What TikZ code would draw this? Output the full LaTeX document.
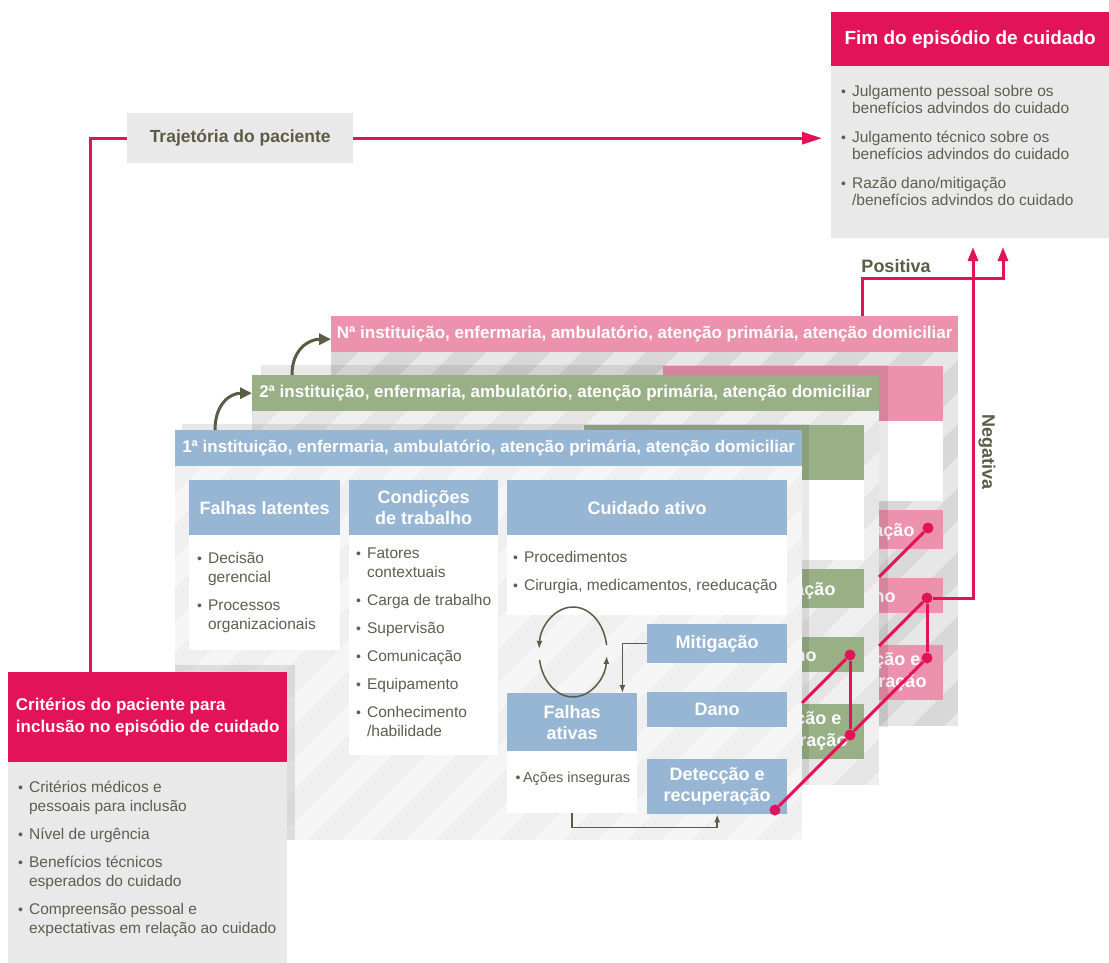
\documentclass[tikz,border=0pt]{standalone}
\usepackage{fontspec}
\setmainfont{Liberation Sans}
\usetikzlibrary{arrows.meta}

\definecolor{redc}{RGB}{226,19,88}
\definecolor{pinkc}{RGB}{236,145,174}
\definecolor{greenc}{RGB}{153,175,134}
\definecolor{bluec}{RGB}{151,182,212}
\definecolor{greyb}{RGB}{233,233,233}
\definecolor{olive}{RGB}{91,91,70}
\definecolor{txtc}{RGB}{94,94,80}
\definecolor{bodyN}{RGB}{216,216,216}
\definecolor{bodyII}{RGB}{229,229,229}
\definecolor{bodyI}{RGB}{239,239,239}
\newcommand\itemdot{{\fontsize{14}{14}\selectfont •}}

\begin{document}
\begin{tikzpicture}[x=1pt, y=-1pt,
    ibox/.style={anchor=north west, inner sep=0pt, align=center, text=white, font=\fontsize{18}{21}\selectfont\bfseries},
    frag/.style={anchor=base east, inner sep=0pt, text=white, font=\fontsize{18}{21}\selectfont\bfseries},
    wbox/.style={anchor=north west, inner sep=0pt, fill=white},
    gbox/.style={anchor=north west, inner sep=0pt, fill=greyb},
    cardhd/.style={anchor=north west, inner sep=0pt, minimum width=627, minimum height=36, text=white, font=\fontsize{17}{20}\selectfont\bfseries},
    lst/.style={anchor=north west, inner sep=0pt, text=txtc, font=\fontsize{15.5}{19}\selectfont},
    lbl/.style={text=olive, font=\fontsize{18}{21}\selectfont\bfseries},
    stripeln/.style={white, opacity=.4, line width=22},
    shadowfill/.style={black, opacity=.09},
    redln/.style={draw=redc, line width=3},
    redar/.style={redln, -{Triangle[length=20pt,width=12pt]}},
    redup/.style={redln, -{Triangle[length=14pt,width=10pt]}},
    rdot/.style={circle, fill=redc, inner sep=0pt, minimum size=11},
    stepar/.style={draw=olive, line width=3, -{Triangle[length=12pt,width=11pt]}},
    smallar/.style={draw=olive, line width=1.5, -{Latex[length=8pt,width=6pt]}}]
    \useasboundingbox (0,0) rectangle (1109,963);

    \foreach \dx/\dy/\col/\bg/\n/\ord in {156/-114/pinkc/bodyN/N/Nª, 77/-55/greenc/bodyII/2/2ª}{
        \begin{scope}[shift={(\dx,\dy)}]
            \begin{scope}
                \clip (175,466) rectangle (802,840);
                \fill[\bg] (175,466) rectangle (802,840);
                \foreach \s in {-240,-176,...,820}
                    \draw[stripeln] (\s,860) -- ++(420,-420);
            \end{scope}
            \node[cardhd, fill=\col] (hdr\n) at (175,430) {\ord\ instituição, enfermaria, ambulatório, atenção primária, atenção domiciliar};
            \node[ibox, fill=\col, minimum width=280, minimum height=55] (ca\n) at (507,480) {};
            \node[wbox, minimum width=280, minimum height=80] (caw\n) at (507,535) {};
            \node[ibox, fill=\col, minimum width=140, minimum height=39] (mit\n) at (647,624) {};
            \node[ibox, fill=\col, minimum width=140, minimum height=35] (dano\n) at (647,692) {};
            \node[ibox, fill=\col, minimum width=140, minimum height=55] (det\n) at (647,759) {};
            \node[frag] (mitf\n) at ([xshift=41.5pt, yshift=-6.5pt]mit\n.center) {ação};
            \node[frag] (danof\n) at ([xshift=22.5pt, yshift=-6.5pt]dano\n.center) {no};
            \node[frag] (detfa\n) at ([xshift=47.5pt, yshift=7pt]det\n.center) {ção e};
            \node[frag] (detfb\n) at ([xshift=53.5pt, yshift=-15pt]det\n.center) {ração};
        \end{scope}
    }

    \begin{scope}
        \clip (175,466) rectangle (802,840);
        \fill[bodyI] (175,466) rectangle (802,840);
        \foreach \s in {-240,-176,...,820}
            \draw[stripeln] (\s,860) -- ++(420,-420);
    \end{scope}
    \node[cardhd, fill=bluec] (hdr1) at (175,430) {1ª instituição, enfermaria, ambulatório, atenção primária, atenção domiciliar};
    \node[ibox, fill=bluec, minimum width=151, minimum height=55] (fl) at (189,480) {Falhas latentes};
    \node[wbox, minimum width=151, minimum height=115] (flw) at (189,535) {};
    \node[ibox, fill=bluec, minimum width=149, minimum height=55] (ct) at (349,480) {Condições\\de trabalho};
    \node[wbox, minimum width=149, minimum height=220] (ctw) at (349,535) {};
    \node[ibox, fill=bluec, minimum width=280, minimum height=55] (ca) at (507,480) {Cuidado ativo};
    \node[wbox, minimum width=280, minimum height=80] (caw) at (507,535) {};
    \node[ibox, fill=bluec, minimum width=140, minimum height=39] (mit) at (647,624) {Mitigação};
    \node[ibox, fill=bluec, minimum width=130, minimum height=58] (fa) at (507,693) {Falhas\\ativas};
    \node[wbox, minimum width=130, minimum height=62] (faw) at (507,751) {};
    \node[ibox, fill=bluec, minimum width=140, minimum height=35] (dano) at (647,692) {Dano};
    \node[ibox, fill=bluec, minimum width=140, minimum height=55] (det) at (647,759) {Detecção e\\recuperação};

    \fill[shadowfill] (261,365) rectangle (888,375);
    \fill[shadowfill] (879,375) rectangle (888,727);
    \fill[shadowfill] (182,424) rectangle (809,430);
    \fill[shadowfill] (802,430) rectangle (809,785);
    \fill[shadowfill] (175,665) rectangle (295,840);

    \node[lst] (fllst) at (197,550) {\begin{tabular}{@{}l@{\hspace{6pt}}l@{}}
        \itemdot & Decisão\\ & gerencial\\[9pt]
        \itemdot & Processos\\ & organizacionais
    \end{tabular}};
    \node[lst] (ctlst) at (356,545) {\begin{tabular}{@{}l@{\hspace{6pt}}l@{}}
        \itemdot & Fatores\\ & contextuais\\[9pt]
        \itemdot & Carga de trabalho\\[9pt]
        \itemdot & Supervisão\\[9pt]
        \itemdot & Comunicação\\[9pt]
        \itemdot & Equipamento\\[9pt]
        \itemdot & Conhecimento\\ & /habilidade
    \end{tabular}};
    \node[lst] (calst) at (513,549) {\begin{tabular}{@{}l@{\hspace{6pt}}l@{}}
        \itemdot & Procedimentos\\[9pt]
        \itemdot & Cirurgia, medicamentos, reeducação
    \end{tabular}};
    \node[lst, anchor=center, font=\fontsize{14.5}{17}\selectfont] (fatxt) at (573,779) {\itemdot\,Ações inseguras};

    \coordinate (cyc) at (573,652);
    \draw[smallar] (cyc) ++(-9:34 and 45) arc[start angle=-9, end angle=-176, x radius=34, y radius=45];
    \draw[smallar] (cyc) ++(170:34 and 45) arc[start angle=170, end angle=5, x radius=34, y radius=45];
    \draw[smallar] (mit.west) -| ([xshift=-15pt]fa.north east);
    \draw[smallar] (faw.south) -- ++(0,14) -| (det.south);

    \node[ibox, fill=redc, minimum width=279, minimum height=90, align=left, font=\fontsize{17}{22}\selectfont\bfseries] (crit) at (8,672) {Critérios do paciente para\\inclusão no episódio de cuidado};
    \node[gbox, minimum width=279, minimum height=201] (critb) at (8,762) {};
    \node[lst] (critlst) at (18,779) {\begin{tabular}{@{}l@{\hspace{6pt}}l@{}}
        \itemdot & Critérios médicos e\\ & pessoais para inclusão\\[9pt]
        \itemdot & Nível de urgência\\[9pt]
        \itemdot & Benefícios técnicos\\ & esperados do cuidado\\[9pt]
        \itemdot & Compreensão pessoal e\\ & expectativas em relação ao cuidado
    \end{tabular}};

    \node[ibox, fill=redc, minimum width=278, minimum height=54, font=\fontsize{19}{22}\selectfont\bfseries] (fim) at (831,12) {Fim do episódio de cuidado};
    \node[gbox, minimum width=278, minimum height=172] (fimb) at (831,66) {};
    \node[lst, font=\fontsize{15.5}{17.5}\selectfont] (fimlst) at (841,84) {\begin{tabular}{@{}l@{\hspace{6pt}}l@{}}
        \itemdot & Julgamento pessoal sobre os\\ & benefícios advindos do cuidado\\[11pt]
        \itemdot & Julgamento técnico sobre os\\ & benefícios advindos do cuidado\\[11pt]
        \itemdot & Razão dano/mitigação\\ & /benefícios advindos do cuidado
    \end{tabular}};

    \node[gbox, minimum width=226, minimum height=50, text=olive, font=\fontsize{17.5}{20}\selectfont\bfseries] (traj) at (127,113) {Trajetória do paciente};

    \draw[stepar] ([xshift=40pt]hdr1.north west) .. controls +(0,-26) and +(-22,0) .. (hdr2.west);
    \draw[stepar] ([xshift=40pt]hdr2.north west) .. controls +(0,-26) and +(-22,0) .. ([yshift=-5pt]hdrN.west);

    \draw[redln] ([xshift=-57.5pt]crit.north) |- (traj.west);
    \draw[redar, shorten >=9pt] (traj.east) -- (traj.east -| fimb.west);

    \node[rdot] (dDet1) at (775,810) {};
    \node[rdot] (dDet2) at (850,735) {};
    \node[rdot] (dDetN) at (927,658) {};
    \node[rdot] (dDano2) at (850,655) {};
    \node[rdot] (dDanoN) at (927,598) {};
    \node[rdot] (dMitN) at (928,528) {};
    \coordinate (eDano2) at (802,703);
    \coordinate (eDanoN) at (879,646);
    \coordinate (eMitN) at (879,577);
    \coordinate (negtip) at (973,247);
    \coordinate (postip) at (1003,247);

    \draw[redln] (dDet1) -- (dDet2) -- (dDetN);
    \draw[redln] (dDano2) -- (dDet2);
    \draw[redln] (dDanoN) -- (dDetN);
    \draw[redln] (dDano2) -- (eDano2);
    \draw[redln] (dDanoN) -- (eDanoN);
    \draw[redln] (dMitN) -- (eMitN);
    \draw[redup] (dDanoN) -| (negtip);
    \draw[redup] ([xshift=-96pt]hdrN.north east) -- ++(0,-38) -| (postip);

    \node[lbl] (pos) at (896,266) {Positiva};
    \node[lbl, rotate=-90] (neg) at (987,452) {Negativa};
\end{tikzpicture}
\end{document}
